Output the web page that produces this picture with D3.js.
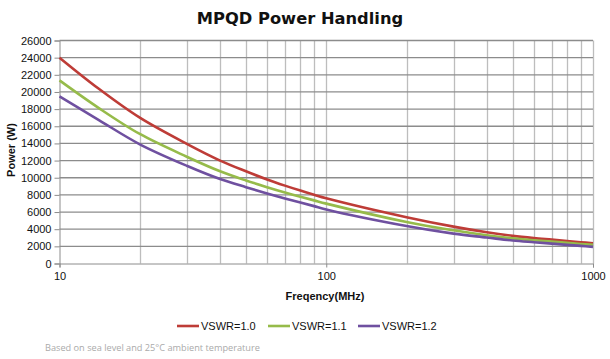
<!DOCTYPE html>
<html><head><meta charset="utf-8">
<script src="https://cdn.jsdelivr.net/npm/d3@7"></script>
<style>body{margin:0;background:#fff}svg{display:block}</style>
</head><body>
<svg id="c" width="610" height="359"></svg>
<script>
const freqs = [10, 14, 20, 30, 40, 50, 60, 70, 80, 90, 100, 200, 300, 400, 500, 600, 700, 800, 900, 1000];
const vswr10 = [24000, 20400, 17000, 13950, 12000, 10750, 9800, 9080, 8500, 8020, 7610, 5400, 4300, 3640, 3220, 2960, 2780, 2620, 2480, 2360];
const vswr11 = [21350, 18150, 15100, 12450, 10750, 9680, 8900, 8280, 7780, 7360, 6980, 4840, 3870, 3290, 2930, 2710, 2550, 2400, 2280, 2170];
const vswr12 = [19480, 16750, 13900, 11400, 9850, 8900, 8170, 7590, 7110, 6690, 6300, 4370, 3480, 3030, 2680, 2480, 2320, 2170, 2050, 1940];
const seriesNames = ["VSWR=1.0", "VSWR=1.1", "VSWR=1.2"];
const seriesColors = ["#be3c37", "#96bb4a", "#6f50a0"];
const yTicks = d3.range(0, 26001, 2000);
const xLabelTicks = [10, 100, 1000];
const xGridTicks = [20,30,40,50,60,70,80,90,100,200,300,400,500,600,700,800,900,1000];

const svg = d3.select("#c");
const L = 59.5, R = 593, T = 40.5, B = 263.5;
const x = d3.scaleLog().domain([10, 1000]).range([L, R]);
const y = d3.scaleLinear().domain([0, 26000]).range([B, T]);

// title
svg.append("text").attr("x", 300).attr("y", 24).attr("text-anchor", "middle")
  .attr("font-family", "DejaVu Sans").attr("font-weight", "bold").attr("font-size", 16.3)
  .attr("fill", "#111").text("MPQD Power Handling");

// grid
svg.append("g").selectAll("line").data(xGridTicks).join("line")
  .attr("x1", d => Math.round(x(d)) + 0.5).attr("x2", d => Math.round(x(d)) + 0.5)
  .attr("y1", T).attr("y2", B).attr("stroke", "#bdbdbd").attr("stroke-width", 1.3);
svg.append("g").selectAll("line").data(yTicks.filter(d => d > 0)).join("line")
  .attr("x1", L).attr("x2", R).attr("y1", d => y(d)).attr("y2", d => y(d))
  .attr("stroke", "#8c8c8c").attr("stroke-width", 1.3);

// axes
const yAxis = d3.axisLeft(y).tickValues(yTicks).tickSize(5).tickPadding(3).tickFormat(d3.format("d"));
const gy = svg.append("g").attr("transform", `translate(${L},0)`).call(yAxis);
gy.select(".domain").attr("stroke", "#8c8c8c");
gy.selectAll(".tick line").attr("stroke", "#8c8c8c");
gy.selectAll("text").attr("font-family", "Liberation Sans, Arial").attr("font-size", 11).attr("fill", "#111");

const xAxis = d3.axisBottom(x).tickValues(xLabelTicks).tickSize(4).tickPadding(5).tickFormat(d3.format("d"));
const gx = svg.append("g").attr("transform", `translate(0,${B})`).call(xAxis);
gx.select(".domain").attr("stroke", "#8c8c8c");
gx.selectAll(".tick line").attr("stroke", "#8c8c8c");
gx.selectAll("text").attr("font-family", "Liberation Sans, Arial").attr("font-size", 11).attr("fill", "#111");

// axis titles
svg.append("text").attr("transform", "translate(15,150) rotate(-90)").attr("text-anchor", "middle")
  .attr("font-family", "Liberation Sans, Arial").attr("font-weight", "bold").attr("font-size", 11)
  .attr("fill", "#111").text("Power (W)");
svg.append("text").attr("x", 325).attr("y", 300).attr("text-anchor", "middle")
  .attr("font-family", "Liberation Sans, Arial").attr("font-weight", "bold").attr("font-size", 11)
  .attr("fill", "#111").text("Freqency(MHz)");

// lines
const data = [vswr10, vswr11, vswr12];
const line = d3.line().x((d, i) => x(freqs[i])).y(d => y(d)).curve(d3.curveCatmullRom.alpha(0.5));
svg.append("g").selectAll("path").data(data).join("path")
  .attr("d", d => line(d)).attr("fill", "none")
  .attr("stroke", (d, i) => seriesColors[i]).attr("stroke-width", 2.6);

// legend
const lx = [177, 268, 358];
const lg = svg.append("g").selectAll("g").data(seriesNames).join("g")
  .attr("transform", (d, i) => `translate(${lx[i]},326)`);
lg.append("line").attr("x1", 0).attr("x2", 22).attr("y1", 0).attr("y2", 0)
  .attr("stroke", (d, i) => seriesColors[i]).attr("stroke-width", 2.6);
lg.append("text").attr("x", 24).attr("y", 4).attr("font-family", "Liberation Sans, Arial")
  .attr("font-size", 11).attr("fill", "#111").text(d => d);

// footnote
svg.append("text").attr("x", 45).attr("y", 351).attr("font-family", "Open Sans")
  .attr("font-size", 9.2).attr("fill", "#aaa").text("Based on sea level and 25°C ambient temperature");
</script>
</body></html>
